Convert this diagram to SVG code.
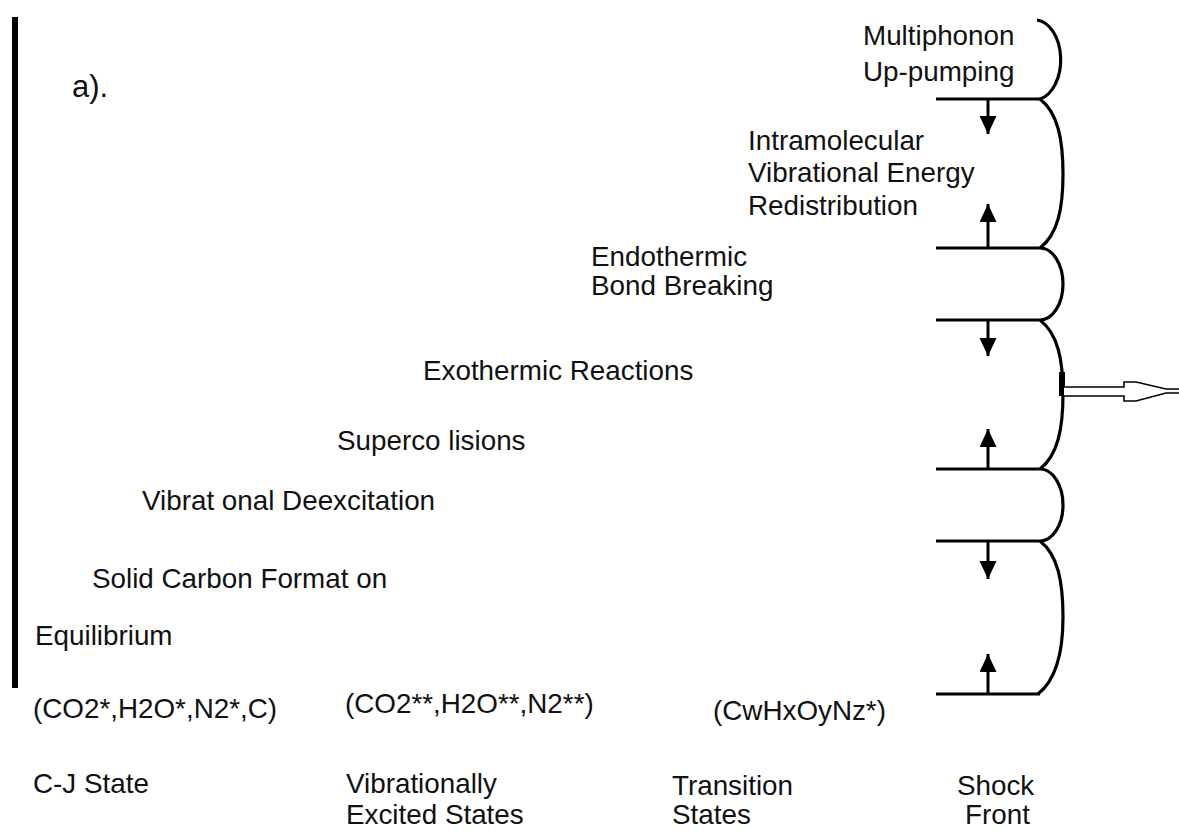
<svg xmlns="http://www.w3.org/2000/svg" width="1179" height="830" viewBox="0 0 1179 830">
  <style>
    .t { font-family: "Liberation Sans", Arial, sans-serif; font-size: 27.8px; fill: #111; }
    .big { font-size: 31px; }
    .ln { stroke: #000; stroke-width: 3; fill: none; }
    .brace { stroke: #000; stroke-width: 3.2; fill: none; stroke-linejoin: miter; }
    .stem { stroke: #000; stroke-width: 3; fill: none; }
  </style>
  <defs>
    <marker id="head" markerUnits="userSpaceOnUse" markerWidth="18" markerHeight="18" refX="18" refY="8.5" orient="auto">
      <path d="M0,0 L18,8.5 L0,17 Z" fill="#000"/>
    </marker>
  </defs>

  <rect width="1179" height="830" fill="#fff"/>

  <!-- left axis bar -->
  <rect id="axis" x="12" y="17" width="6" height="671" fill="#000"/>

  <g id="label-a"><text class="t big" x="72" y="97">a).</text></g>

  <!-- process labels -->
  <g id="multiphonon">
    <text class="t" x="863" y="45">Multiphonon</text>
    <text class="t" x="863" y="81">Up-pumping</text>
  </g>
  <g id="ivr">
    <text class="t" x="748" y="150">Intramolecular</text>
    <text class="t" x="748" y="182">Vibrational Energy</text>
    <text class="t" x="748" y="215">Redistribution</text>
  </g>
  <g id="endothermic">
    <text class="t" x="591" y="266">Endothermic</text>
    <text class="t" x="591" y="295">Bond Breaking</text>
  </g>
  <g id="exothermic"><text class="t" x="423" y="380">Exothermic Reactions</text></g>
  <g id="supercollisions"><text class="t" x="337" y="450">Superco lisions</text></g>
  <g id="deexcitation"><text class="t" x="142" y="510">Vibrat onal Deexcitation</text></g>
  <g id="carbon"><text class="t" x="92" y="588">Solid Carbon Format on</text></g>
  <g id="equilibrium"><text class="t" x="35" y="645">Equilibrium</text></g>

  <!-- state columns -->
  <g id="cj-state">
    <text class="t" x="33" y="718">(CO2*,H2O*,N2*,C)</text>
    <text class="t" x="33" y="793">C-J State</text>
  </g>
  <g id="excited-states">
    <text class="t" x="345" y="713">(CO2**,H2O**,N2**)</text>
    <text class="t" x="346" y="793">Vibrationally</text>
    <text class="t" x="346" y="824">Excited States</text>
  </g>
  <g id="transition-states">
    <text class="t" x="713" y="720">(CwHxOyNz*)</text>
    <text class="t" x="672" y="795">Transition</text>
    <text class="t" x="672" y="824">States</text>
  </g>
  <g id="shock-front">
    <text class="t" x="957" y="795">Shock</text>
    <text class="t" x="965" y="824">Front</text>
  </g>

  <!-- levels, braces and transition arrows -->
  <g id="connectors">
    <g id="levels">
      <line class="ln" x1="936" y1="99" x2="1040" y2="99"/>
      <line class="ln" x1="936" y1="248" x2="1040" y2="248"/>
      <line class="ln" x1="936" y1="320" x2="1040" y2="320"/>
      <line class="ln" x1="936" y1="469" x2="1040" y2="469"/>
      <line class="ln" x1="936" y1="541" x2="1040" y2="541"/>
      <line class="ln" x1="936" y1="694" x2="1040" y2="694"/>
    </g>
    <g id="braces">
      <path class="brace" d="M1037,20 A26,40 0 0 1 1040,99"/>
      <path class="brace" d="M1040,99 C1058,113 1063,140 1063,174 C1063,208 1058,234 1040,248"/>
      <path class="brace" d="M1040,248 A23,36 0 0 1 1040,320"/>
      <path class="brace" d="M1040,320 C1058,334 1063,360 1063,394 C1063,428 1058,455 1040,469"/>
      <path class="brace" d="M1040,469 A23,36 0 0 1 1040,541"/>
      <path class="brace" d="M1040,541 C1058,555 1063,582 1063,617 C1063,652 1056,680 1038,694"/>
      <rect x="1059" y="372" width="6" height="24" fill="#000"/>
    </g>
    <g id="arrows">
      <line class="stem" x1="988" y1="99" x2="988" y2="134" marker-end="url(#head)"/>
      <line class="stem" x1="988" y1="248" x2="988" y2="204" marker-end="url(#head)"/>
      <line class="stem" x1="988" y1="320" x2="988" y2="356" marker-end="url(#head)"/>
      <line class="stem" x1="988" y1="469" x2="988" y2="429" marker-end="url(#head)"/>
      <line class="stem" x1="988" y1="541" x2="988" y2="579" marker-end="url(#head)"/>
      <line class="stem" x1="988" y1="694" x2="988" y2="654" marker-end="url(#head)"/>
    </g>
    <!-- hollow arrow leaving the shock front -->
    <path id="front-arrow" d="M1064,387 L1124,387 L1124,382 L1136,382 L1166,389 L1185,389 L1185,393 L1166,393 L1136,401 L1124,401 L1124,396 L1064,396" fill="#fff" stroke="#000" stroke-width="1.6"/>
  </g>
</svg>
